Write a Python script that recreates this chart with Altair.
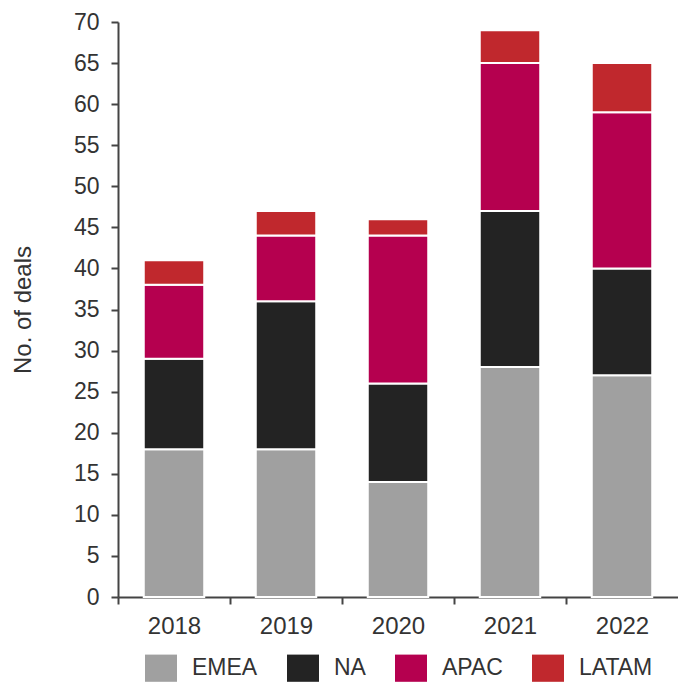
import altair as alt
import pandas as pd

years = ["2018", "2019", "2020", "2021", "2022"]
regions = ["EMEA", "NA", "APAC", "LATAM"]
emea = [18, 18, 14, 28, 27]
na = [11, 18, 12, 19, 13]
apac = [9, 8, 18, 18, 19]
latam = [3, 3, 2, 4, 6]
colors = ["#a0a0a0", "#232323", "#b5004f", "#c0282d"]

rows = []
for series, vals in zip(regions, [emea, na, apac, latam]):
    for y, v in zip(years, vals):
        rows.append({"Year": y, "Region": series, "Deals": v, "Order": regions.index(series)})
df = pd.DataFrame(rows)

font = "Liberation Sans"
W = 560

chart = alt.Chart(df).mark_bar(stroke="white", strokeWidth=2).encode(
    x=alt.X("Year:N", sort=years,
            scale=alt.Scale(paddingInner=0.46, paddingOuter=0.23),
            axis=alt.Axis(title=None, labelAngle=0, tickOffset=-W / 10, labelOffset=W / 10,
                          labelFontSize=24, labelPadding=10, labelColor="#333333",
                          labelFont=font, tickSize=7, tickWidth=2, tickColor="#444444",
                          domainColor="#444444", domainWidth=2)),
    y=alt.Y("Deals:Q", stack="zero",
            scale=alt.Scale(domain=[0, 70]),
            axis=alt.Axis(title="No. of deals", values=list(range(0, 71, 5)), grid=False,
                          labelFontSize=23, labelPadding=12, labelColor="#333333",
                          labelFont=font, tickSize=7, tickWidth=2, tickColor="#444444",
                          domainColor="#444444", domainWidth=2,
                          titleFont=font, titleFontSize=24, titleFontWeight="normal",
                          titleColor="#333333", titlePadding=38)),
    color=alt.Color("Region:N", sort=regions,
                    scale=alt.Scale(domain=regions, range=colors),
                    legend=alt.Legend(title=None, orient="none", direction="horizontal",
                                      legendX=27, legendY=630,
                                      symbolType="M-1,-0.85L1,-0.85L1,0.85L-1,0.85Z",
                                      symbolSize=1024, symbolStrokeWidth=0,
                                      labelFontSize=23, labelFont=font, labelColor="#333333",
                                      labelOffset=15, columnPadding=29)),
    order=alt.Order("Order:Q", sort="ascending"),
).properties(
    width=W, height=575,
    autosize=alt.AutoSizeParams(type="none"),
    padding={"left": 110, "top": 14, "right": 0, "bottom": 85},
).configure_view(stroke=None)

chart.save("out.html", embed_options={"renderer": "svg", "actions": False})
